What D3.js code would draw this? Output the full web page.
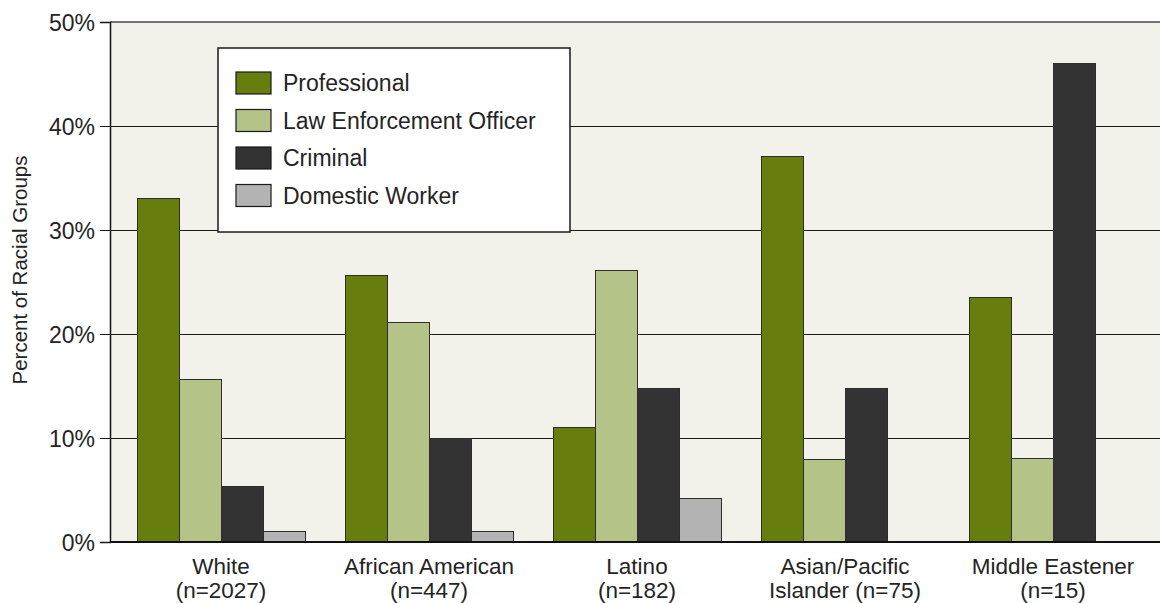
<!DOCTYPE html>
<html>
<head>
<meta charset="utf-8">
<script src="https://cdn.jsdelivr.net/npm/d3@7"></script>
<style>
  html, body { margin: 0; padding: 0; background: #ffffff; }
  svg { display: block; }
  text { font-family: "Liberation Sans", Arial, Helvetica, sans-serif; fill: #242424; }
</style>
</head>
<body>
<svg id="chart" width="1160" height="603"></svg>
<script>
// Racial groups along the x axis (two-line labels)
const groups = ["White", "African American", "Latino", "Asian/Pacific Islander", "Middle Eastener"];
const groupLine1 = ["White", "African American", "Latino", "Asian/Pacific", "Middle Eastener"];
const groupLine2 = ["(n=2027)", "(n=447)", "(n=182)", "Islander (n=75)", "(n=15)"];

// Occupational roles (series)
const roles = ["Professional", "Law Enforcement Officer", "Criminal", "Domestic Worker"];
const roleColors = ["#677e0f", "#b4c388", "#333333", "#b3b3b3"];

// Percent of each racial group shown in each role
const professional = [33.0, 25.6, 11.0, 37.1, 23.5];
const lawEnforcement = [15.6, 21.1, 26.1, 7.9, 8.0];
const criminal = [5.3, 10.0, 14.8, 14.8, 46.0];
const domesticWorker = [1.0, 1.0, 4.2, 0, 0];

const yTicks = [0, 10, 20, 30, 40, 50];

const seriesValues = [professional, lawEnforcement, criminal, domesticWorker];

const svg = d3.select("#chart");
const plot = { left: 110, right: 1160, top: 22, bottom: 542 };

const y = d3.scaleLinear().domain([0, 50]).range([plot.bottom, plot.top]);
const x0 = d3.scaleBand().domain(groups).range([117, 1157])
  .paddingInner(40 / 208).paddingOuter(20 / 208);
const x1 = d3.scaleBand().domain(roles).range([0, x0.bandwidth()]).padding(0);

// plot background
svg.append("rect")
  .attr("x", plot.left).attr("y", plot.top)
  .attr("width", plot.right - plot.left).attr("height", plot.bottom - plot.top)
  .attr("fill", "#f2f2ea");

// horizontal gridlines
svg.append("g").selectAll("line")
  .data(yTicks.filter(t => t > 0 && t < 50))
  .join("line")
  .attr("x1", plot.left).attr("x2", plot.right)
  .attr("y1", d => y(d)).attr("y2", d => y(d))
  .attr("stroke", "#1a1a1a").attr("stroke-width", 1)
  .attr("shape-rendering", "crispEdges");

// top border
svg.append("line")
  .attr("x1", plot.left).attr("x2", plot.right)
  .attr("y1", y(50)).attr("y2", y(50))
  .attr("stroke", "#4a4a4a").attr("stroke-width", 1.5);

// bars
const barData = [];
groups.forEach((g, gi) => {
  roles.forEach((r, ri) => {
    barData.push({ group: g, role: r, value: seriesValues[ri][gi], color: roleColors[ri] });
  });
});

svg.append("g").selectAll("rect")
  .data(barData.filter(d => d.value > 0))
  .join("rect")
  .attr("x", d => x0(d.group) + x1(d.role))
  .attr("y", d => y(d.value))
  .attr("width", x1.bandwidth())
  .attr("height", d => y(0) - y(d.value))
  .attr("fill", d => d.color)
  .attr("stroke", "#2e2e2e")
  .attr("stroke-width", 1)
  .attr("shape-rendering", "crispEdges");

// y axis with ticks
const yAxis = d3.axisLeft(y).tickValues(yTicks).tickSize(10).tickPadding(5)
  .tickFormat(d => d + "%");
const yAxisG = svg.append("g").attr("transform", `translate(${plot.left},0)`).call(yAxis);
yAxisG.select(".domain").attr("stroke", "#111").attr("stroke-width", 1.5);
yAxisG.selectAll(".tick line").attr("stroke", "#1a1a1a").attr("stroke-width", 1);
yAxisG.selectAll(".tick text")
  .attr("font-size", 23).attr("font-family", "Liberation Sans, Arial, sans-serif")
  .attr("fill", "#242424").attr("dy", "0.36em");

// baseline
svg.append("line")
  .attr("x1", plot.left).attr("x2", plot.right)
  .attr("y1", y(0)).attr("y2", y(0))
  .attr("stroke", "#111").attr("stroke-width", 2);

// x axis labels (two lines)
const xl = svg.append("g").selectAll("text")
  .data(groups)
  .join("text")
  .attr("text-anchor", "middle")
  .attr("font-size", 22.5)
  .attr("x", d => x0(d) + x0.bandwidth() / 2);
xl.append("tspan")
  .attr("x", d => x0(d) + x0.bandwidth() / 2)
  .attr("y", 574)
  .text((d, i) => groupLine1[i]);
xl.append("tspan")
  .attr("x", d => x0(d) + x0.bandwidth() / 2)
  .attr("y", 598)
  .text((d, i) => groupLine2[i]);

// y axis title
svg.append("text")
  .attr("transform", `translate(27,270) rotate(-90)`)
  .attr("text-anchor", "middle")
  .attr("font-size", 20.5)
  .text("Percent of Racial Groups");

// legend
const legend = svg.append("g").attr("transform", "translate(218,48)");
legend.append("rect")
  .attr("width", 352).attr("height", 184)
  .attr("fill", "#ffffff").attr("stroke", "#1a1a1a").attr("stroke-width", 1.5);
const items = legend.selectAll("g.item")
  .data(roles)
  .join("g")
  .attr("class", "item")
  .attr("transform", (d, i) => `translate(18,${24 + i * 37.5})`);
items.append("rect")
  .attr("width", 35).attr("height", 22)
  .attr("fill", (d, i) => roleColors[i])
  .attr("stroke", "#1a1a1a").attr("stroke-width", 1.2);
items.append("text")
  .attr("x", 47).attr("y", 11).attr("dy", "0.36em")
  .attr("font-size", 23)
  .text(d => d);
</script>
</body>
</html>
